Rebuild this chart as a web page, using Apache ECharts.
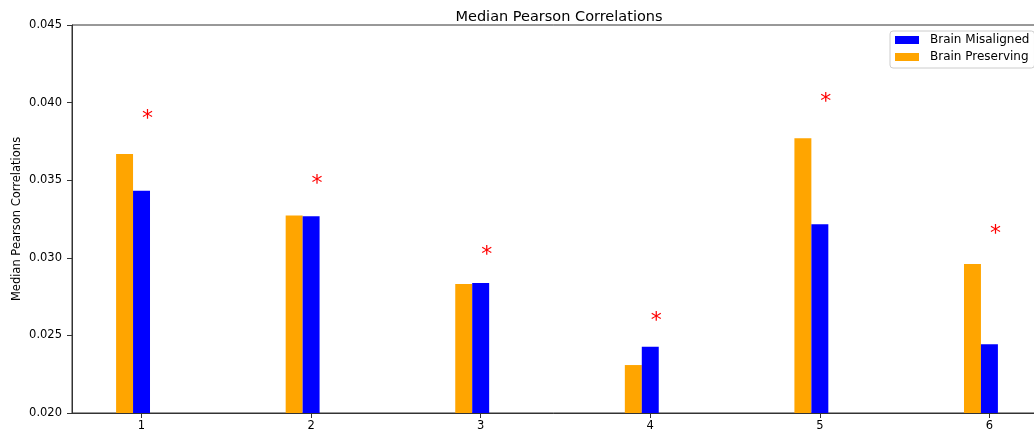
<!DOCTYPE html>
<html>
<head>
<meta charset="utf-8">
<script src="https://cdn.jsdelivr.net/npm/echarts@6/dist/echarts.min.js"></script>
<style>html,body{margin:0;padding:0;background:#fff;}#chart{width:1034px;height:436px;}</style>
</head>
<body>
<div id="chart"></div>
<script>
const categories = [1, 2, 3, 4, 5, 6];
const brainPreserving = [0.03669, 0.03272, 0.02831, 0.02309, 0.03770, 0.02960];
const brainMisaligned = [0.03432, 0.03268, 0.02838, 0.02427, 0.03216, 0.02443];
const significanceMarkers = [0.03920, 0.03501, 0.03044, 0.02617, 0.04028, 0.03179];
const yTicks = [0.020, 0.025, 0.030, 0.035, 0.040, 0.045];

const FONT = 'DejaVu Sans';
const BAR_W = 0.1;
const Y_BASE = 0.02;

function barRenderer(offset) {
  return function (params, api) {
    const x = api.value(0), y = api.value(1);
    const top = api.coord([x + offset - BAR_W / 2, y]);
    const bot = api.coord([x + offset + BAR_W / 2, Y_BASE]);
    return {
      type: 'rect',
      shape: { x: top[0], y: top[1], width: bot[0] - top[0], height: bot[1] - top[1] },
      style: { fill: api.visual('color') }
    };
  };
}

const chart = echarts.init(document.getElementById('chart'), null, { renderer: 'canvas' });
chart.setOption({
  animation: false,
  backgroundColor: '#fff',
  title: {
    text: 'Median Pearson Correlations',
    left: 554, top: 5, textAlign: 'center',
    textStyle: { fontFamily: FONT, fontSize: 14.5, fontWeight: 'normal', color: '#000' }
  },
  legend: {
    orient: 'vertical', left: 890, top: 31,
    padding: [3, 5, 5, 5], itemGap: 5,
    itemWidth: 24, itemHeight: 8,
    borderColor: '#cccccc', borderWidth: 1, borderRadius: 3,
    backgroundColor: 'rgba(255,255,255,0.8)',
    data: [{ name: 'Brain Misaligned', icon: 'rect' }, { name: 'Brain Preserving', icon: 'rect' }],
    textStyle: { fontFamily: FONT, fontSize: 12, color: '#000', padding: [0, 0, 0, 6] }
  },
  grid: { left: 72, top: 25, bottom: 23, right: -8, containLabel: false, outerBoundsMode: 'none',
    show: true, borderColor: '#333', borderWidth: 1 },
  xAxis: {
    type: 'value', min: 0.59, max: 6.31,
    splitLine: { show: false },
    axisLine: { show: true, lineStyle: { color: '#333', width: 1 } },
    axisTick: { show: true, length: 5, customValues: categories, lineStyle: { color: '#333' } },
    axisLabel: { customValues: categories, margin: 7, fontFamily: FONT, fontSize: 11.5, color: '#000',
      formatter: v => String(v) }
  },
  yAxis: {
    type: 'value', min: 0.020, max: 0.045, interval: 0.005,
    name: 'Median Pearson Correlations', nameLocation: 'middle', nameGap: 49,
    nameMoveOverlap: false,
    nameTextStyle: { fontFamily: FONT, fontSize: 11.5, color: '#000' },
    splitLine: { show: false },
    axisLine: { show: true, lineStyle: { color: '#333', width: 1 } },
    axisTick: { show: true, length: 5, lineStyle: { color: '#333' } },
    axisLabel: { margin: 10, fontFamily: FONT, fontSize: 11.5, color: '#000',
      formatter: v => v.toFixed(3) }
  },
  series: [
    {
      name: 'Brain Preserving', type: 'custom', itemStyle: { color: '#FFA500' },
      renderItem: barRenderer(-0.1),
      encode: { x: 0, y: 1 },
      data: categories.map((c, i) => [c, brainPreserving[i]]),
      z: 2
    },
    {
      name: 'Brain Misaligned', type: 'custom', itemStyle: { color: '#0000FF' },
      renderItem: barRenderer(0),
      encode: { x: 0, y: 1 },
      data: categories.map((c, i) => [c, brainMisaligned[i]]),
      z: 2
    },
    {
      name: 'significance', type: 'custom',
      renderItem: function (params, api) {
        const p = api.coord([api.value(0), api.value(1)]);
        return {
          type: 'text',
          x: p[0] + 6, y: p[1] + 4,
          style: { text: '*', fill: '#FF0000', fontFamily: FONT, fontSize: 22,
            align: 'center', verticalAlign: 'middle' }
        };
      },
      encode: { x: 0, y: 1 },
      data: categories.map((c, i) => [c, significanceMarkers[i]]),
      z: 3
    }
  ]
});
</script>
</body>
</html>
